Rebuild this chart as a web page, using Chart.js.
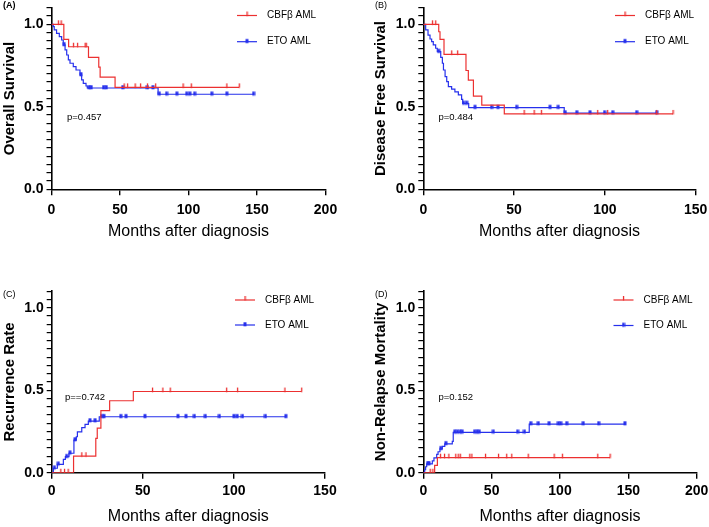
<!DOCTYPE html>
<html>
<head>
<meta charset="utf-8">
<script src="https://cdn.jsdelivr.net/npm/chart.js@4.4.1/dist/chart.umd.min.js"></script>
<style>
  body { margin: 0; background: #fff; }
  #wrap { position: relative; width: 709px; height: 527px; }
  canvas { position: absolute; left: 0; top: 0; }
</style>
</head>
<body>
<div id="wrap">
  <canvas id="chartA" width="709" height="527"></canvas>
  <canvas id="chartB" width="709" height="527"></canvas>
  <canvas id="chartC" width="709" height="527"></canvas>
  <canvas id="chartD" width="709" height="527"></canvas>
</div>
<script>
const FONT = "'Liberation Sans', Arial, sans-serif";
const RED = 'rgb(236, 48, 48)';
const BLUE = 'rgb(38, 48, 236)';
const seriesLabels = ['CBFβ AML', 'ETO AML'];
const xTitle = 'Months after diagnosis';

// (A) overall survival
const osCbfTime = [0, 5, 7, 9, 12.5, 16, 19, 24.5, 25.3, 27, 34.5, 35.5, 46.4, 53, 55.5, 61, 65, 70, 76, 96, 102, 128, 137];
const osCbfValue = [1, 1, 1, 0.909, 0.864, 0.864, 0.864, 0.864, 0.864, 0.80, 0.74, 0.68, 0.618, 0.618, 0.618, 0.618, 0.618, 0.618, 0.618, 0.618, 0.618, 0.618, 0.618];
const osCbfCensor = [0, 1, 1, 0, 0, 1, 1, 1, 1, 0, 0, 0, 0, 1, 1, 1, 1, 1, 1, 1, 1, 1, 1];
const osEtoTime = [0, 1.3, 2.0, 3.7, 5.7, 7.4, 8.6, 9.2, 9.9, 11.1, 12.3, 13.5, 15.9, 17.9, 20.8, 21.5, 22.0, 23.2, 25.2, 26.1, 27.5, 29, 38, 40, 52, 70, 74, 77.8, 78.7, 84, 91.5, 98.7, 101, 104.5, 117, 128, 147.5];
const osEtoValue = [1, 0.986, 0.966, 0.945, 0.925, 0.905, 0.875, 0.875, 0.845, 0.814, 0.784, 0.764, 0.743, 0.723, 0.693, 0.693, 0.663, 0.642, 0.626, 0.614, 0.614, 0.614, 0.614, 0.614, 0.614, 0.614, 0.614, 0.576, 0.576, 0.576, 0.576, 0.576, 0.576, 0.576, 0.576, 0.576, 0.576];
const osEtoCensor = [0, 0, 0, 0, 0, 0, 0, 1, 0, 0, 0, 0, 0, 0, 0, 1, 0, 0, 0, 0, 1, 1, 1, 1, 1, 1, 1, 0, 1, 1, 1, 1, 1, 1, 1, 1, 1];

// (B) disease free survival
const dfsCbfTime = [0, 5, 6.8, 8.5, 9.2, 11.4, 15.6, 18.9, 23.5, 24.8, 27.6, 32.2, 44.6, 55.5, 61, 65, 96, 101.5, 128.5, 137.5];
const dfsCbfValue = [1, 1, 1, 0.955, 0.909, 0.818, 0.818, 0.818, 0.72, 0.662, 0.565, 0.51, 0.457, 0.457, 0.457, 0.457, 0.457, 0.457, 0.457, 0.457];
const dfsCbfCensor = [0, 1, 1, 0, 0, 0, 1, 1, 0, 0, 0, 0, 0, 1, 1, 1, 1, 1, 1, 1];
const dfsEtoTime = [0, 1.3, 2.6, 3.7, 4.6, 5.5, 6.8, 7.7, 8.5, 9.6, 10.5, 11.1, 12.0, 12.9, 13.8, 15.6, 17.4, 19.3, 21.1, 21.7, 22.2, 23.9, 25.0, 28.5, 37.6, 41.1, 51.4, 69.8, 74.3, 77.6, 78.2, 84.5, 91.8, 99.8, 104.3, 117.5, 128.5];
const dfsEtoValue = [1, 0.966, 0.935, 0.911, 0.895, 0.875, 0.855, 0.835, 0.835, 0.80, 0.764, 0.723, 0.683, 0.653, 0.622, 0.607, 0.59, 0.572, 0.545, 0.52, 0.52, 0.52, 0.495, 0.495, 0.495, 0.495, 0.495, 0.495, 0.495, 0.462, 0.462, 0.462, 0.462, 0.462, 0.462, 0.462, 0.462];
const dfsEtoCensor = [0, 0, 0, 0, 0, 0, 0, 0, 1, 0, 0, 0, 0, 0, 0, 0, 0, 0, 0, 0, 1, 1, 0, 1, 1, 1, 1, 1, 1, 0, 1, 1, 1, 1, 1, 1, 1];

// (C) recurrence rate
const rrCbfTime = [0, 5, 7, 9, 12, 16.5, 18.8, 24.2, 25, 27, 31.8, 44.8, 55.3, 61, 65, 96, 102, 128, 137.2];
const rrCbfValue = [0, 0, 0, 0, 0.10, 0.10, 0.10, 0.208, 0.27, 0.376, 0.436, 0.492, 0.492, 0.492, 0.492, 0.492, 0.492, 0.492, 0.492];
const rrCbfCensor = [0, 1, 1, 1, 0, 1, 1, 0, 0, 0, 0, 0, 1, 1, 1, 1, 1, 1, 1];
const rrEtoTime = [0, 0.9, 1.5, 3.1, 3.6, 6.4, 7.5, 8.2, 9.5, 10.0, 12.2, 12.8, 13.5, 14.1, 16.5, 18.3, 20.1, 21.0, 23.8, 26.1, 27.4, 28.7, 37.9, 40.8, 51.2, 69.3, 73.7, 78.3, 84.3, 92, 100, 101.8, 104.7, 117.3, 128.5];
const rrEtoValue = [0, 0.027, 0.027, 0.051, 0.051, 0.081, 0.097, 0.097, 0.118, 0.118, 0.198, 0.198, 0.218, 0.248, 0.273, 0.293, 0.313, 0.313, 0.313, 0.339, 0.339, 0.339, 0.339, 0.339, 0.339, 0.339, 0.339, 0.339, 0.339, 0.339, 0.339, 0.339, 0.339, 0.339, 0.339];
const rrEtoCensor = [0, 0, 1, 0, 1, 0, 0, 1, 0, 1, 0, 1, 0, 0, 0, 0, 0, 1, 1, 0, 1, 1, 1, 1, 1, 1, 1, 1, 1, 1, 1, 1, 1, 1, 1];

// (D) non-relapse mortality
const nrmCbfTime = [0, 5, 7, 8.3, 10.3, 12.5, 15.5, 18.7, 23.7, 25.5, 27, 34, 35.5, 45.5, 55, 61, 64.7, 76.7, 95.7, 101.7, 127.6, 136.6];
const nrmCbfValue = [0, 0, 0, 0.045, 0.091, 0.091, 0.091, 0.091, 0.091, 0.091, 0.091, 0.091, 0.091, 0.091, 0.091, 0.091, 0.091, 0.091, 0.091, 0.091, 0.091, 0.091];
const nrmCbfCensor = [0, 1, 1, 0, 0, 1, 1, 1, 1, 1, 1, 1, 1, 1, 1, 1, 1, 1, 1, 1, 1, 1];
const nrmEtoTime = [0, 1.0, 1.7, 2.5, 3.2, 4.2, 6.6, 7.8, 9.8, 10.8, 12.2, 12.8, 13.9, 15.7, 16.5, 21.2, 21.9, 23, 25, 27, 28.5, 37.5, 39.5, 41, 51.2, 69, 74, 77.5, 78.6, 84.1, 92, 98.8, 100.5, 104.9, 117, 128.3, 147.5];
const nrmEtoValue = [0, 0.018, 0.036, 0.053, 0.053, 0.053, 0.072, 0.09, 0.111, 0.127, 0.145, 0.145, 0.16, 0.175, 0.175, 0.19, 0.245, 0.245, 0.245, 0.245, 0.245, 0.245, 0.245, 0.245, 0.245, 0.245, 0.245, 0.295, 0.295, 0.295, 0.295, 0.295, 0.295, 0.295, 0.295, 0.295, 0.295];
const nrmEtoCensor = [0, 0, 0, 0, 1, 1, 0, 0, 0, 0, 0, 1, 0, 0, 1, 0, 0, 1, 1, 1, 1, 1, 1, 1, 1, 1, 1, 0, 1, 1, 1, 1, 1, 1, 1, 1, 1];

// small canvases used as censor marks (tick above the line)
const makeMark = (color, w, h, draw) => {
  const c = document.createElement('canvas');
  c.width = w;
  c.height = h;
  const g = c.getContext('2d');
  g.fillStyle = color;
  draw(g);
  return c;
};
const redMark = makeMark(RED, 3, 10, (g) => g.fillRect(0.9, 1, 1.3, 4.5));
const blueMark = makeMark(BLUE, 4, 8, (g) => g.fillRect(0.5, 1.3, 3, 4));
const marks = [redMark, blueMark];

const series = (label, color, mark, times, values, censored) => ({
  label,
  borderColor: color,
  backgroundColor: color,
  borderWidth: 1.2,
  showLine: true,
  stepped: 'before',
  fill: false,
  data: times.map((t, i) => ({ x: t, y: values[i] })),
  pointStyle: (c) => (censored[c.dataIndex] ? mark : 'circle'),
  pointRadius: (c) => (censored[c.dataIndex] ? 3 : 0),
  pointHoverRadius: 0,
});

const extras = {
  id: 'extras',
  afterDraw(chart, args, opts) {
    const { ctx } = chart;
    ctx.save();
    ctx.fillStyle = '#000';
    ctx.textBaseline = 'middle';
    ctx.textAlign = 'left';
    ctx.font = `${opts.tagBold ? 'bold ' : ''}9px ${FONT}`;
    ctx.fillText(opts.tag, opts.tagX, opts.tagY);
    ctx.font = `9.5px ${FONT}`;
    ctx.fillText(opts.pText, opts.pX, opts.pY);
    chart.data.datasets.forEach((ds, i) => {
      const y = opts.legendY[i];
      ctx.strokeStyle = ds.borderColor;
      ctx.lineWidth = 1.2;
      ctx.beginPath();
      ctx.moveTo(opts.legendX, y);
      ctx.lineTo(opts.legendX + 20, y);
      ctx.stroke();
      const m = marks[i];
      ctx.drawImage(m, opts.legendX + 10 - m.width / 2, y - m.height / 2);
      ctx.fillStyle = '#000';
      ctx.font = `10px ${FONT}`;
      ctx.fillText(ds.label, opts.legendX + 30, y);
    });
    ctx.restore();
  },
};

const makePanel = (id, p) => new Chart(document.getElementById(id), {
  type: 'scatter',
  data: {
    datasets: [
      series(seriesLabels[0], RED, redMark, p.cbf[0], p.cbf[1], p.cbf[2]),
      series(seriesLabels[1], BLUE, blueMark, p.eto[0], p.eto[1], p.eto[2]),
    ],
  },
  plugins: [extras],
  options: {
    responsive: false,
    animation: false,
    events: [],
    layout: { padding: p.pad, autoPadding: false },
    plugins: {
      legend: { display: false },
      tooltip: { enabled: false },
      extras: p.extras,
    },
    scales: {
      x: {
        type: 'linear',
        min: 0,
        max: p.xMax,
        afterFit: (s) => { s.height = p.xHeight; s.paddingLeft = 0; s.paddingRight = 0; },
        border: { color: '#000', width: 1.6 },
        grid: { drawOnChartArea: false, tickLength: 6, color: '#000', lineWidth: 1.4 },
        ticks: { stepSize: 50, padding: p.xPad, color: '#000', font: { family: FONT, size: 14, weight: 'bold' } },
        title: { display: true, text: xTitle, padding: 0, color: '#000', font: { family: FONT, size: 16 } },
      },
      y: {
        type: 'linear',
        min: 0,
        max: 1.1,
        afterFit: (s) => { s.width = p.yWidth; s.paddingTop = 0; s.paddingBottom = 0; },
        border: { color: '#000', width: 1.6 },
        grid: { drawOnChartArea: false, tickLength: 5, color: '#000', lineWidth: 1.2 },
        ticks: {
          stepSize: 0.05,
          autoSkip: false,
          padding: 3,
          color: '#000',
          font: { family: FONT, size: 14, weight: 'bold' },
          callback: (v) => (Math.abs(v * 2 - Math.round(v * 2)) < 1e-6 ? v.toFixed(1) : ''),
        },
        title: { display: true, text: p.yTitle, padding: 0, color: '#000', font: { family: FONT, size: 15, weight: 'bold' } },
      },
    },
  },
});

makePanel('chartA', {
  cbf: [osCbfTime, osCbfValue, osCbfCensor],
  eto: [osEtoTime, osEtoValue, osEtoCensor],
  xMax: 200,
  yTitle: 'Overall Survival',
  pad: { left: 1, top: 7.8, right: 383.5, bottom: 285.4 },
  yWidth: 50.5,
  xHeight: 52.3,
  xPad: 6,
  extras: { tag: '(A)', tagBold: true, tagX: 3, tagY: 6, pText: 'p=0.457', pX: 67, pY: 117, legendX: 237, legendY: [15.5, 41.7] },
});

makePanel('chartB', {
  cbf: [dfsCbfTime, dfsCbfValue, dfsCbfCensor],
  eto: [dfsEtoTime, dfsEtoValue, dfsEtoCensor],
  xMax: 150,
  yTitle: 'Disease Free Survival',
  pad: { left: 371.8, top: 7.8, right: 13.3, bottom: 285.4 },
  yWidth: 51.5,
  xHeight: 52.3,
  xPad: 6,
  extras: { tag: '(B)', tagBold: false, tagX: 375, tagY: 6, pText: 'p=0.484', pX: 438.5, pY: 117, legendX: 615, legendY: [15.5, 41.7] },
});

makePanel('chartC', {
  cbf: [rrCbfTime, rrCbfValue, rrCbfCensor],
  eto: [rrEtoTime, rrEtoValue, rrEtoCensor],
  xMax: 150,
  yTitle: 'Recurrence Rate',
  pad: { left: 1, top: 291.2, right: 384, bottom: 0.7 },
  yWidth: 50.7,
  xHeight: 53.6,
  xPad: 4,
  extras: { tag: '(C)', tagBold: false, tagX: 3, tagY: 295, pText: 'p==0.742', pX: 65, pY: 397.5, legendX: 235, legendY: [300, 325] },
});

makePanel('chartD', {
  cbf: [nrmCbfTime, nrmCbfValue, nrmCbfCensor],
  eto: [nrmEtoTime, nrmEtoValue, nrmEtoCensor],
  xMax: 200,
  yTitle: 'Non-Relapse Mortality',
  pad: { left: 371.8, top: 291.2, right: 12.3, bottom: 0.7 },
  yWidth: 51.5,
  xHeight: 53.6,
  xPad: 4,
  extras: { tag: '(D)', tagBold: false, tagX: 375, tagY: 294.5, pText: 'p=0.152', pX: 438.5, pY: 397.5, legendX: 613.5, legendY: [300, 325.5] },
});
</script>
</body>
</html>
